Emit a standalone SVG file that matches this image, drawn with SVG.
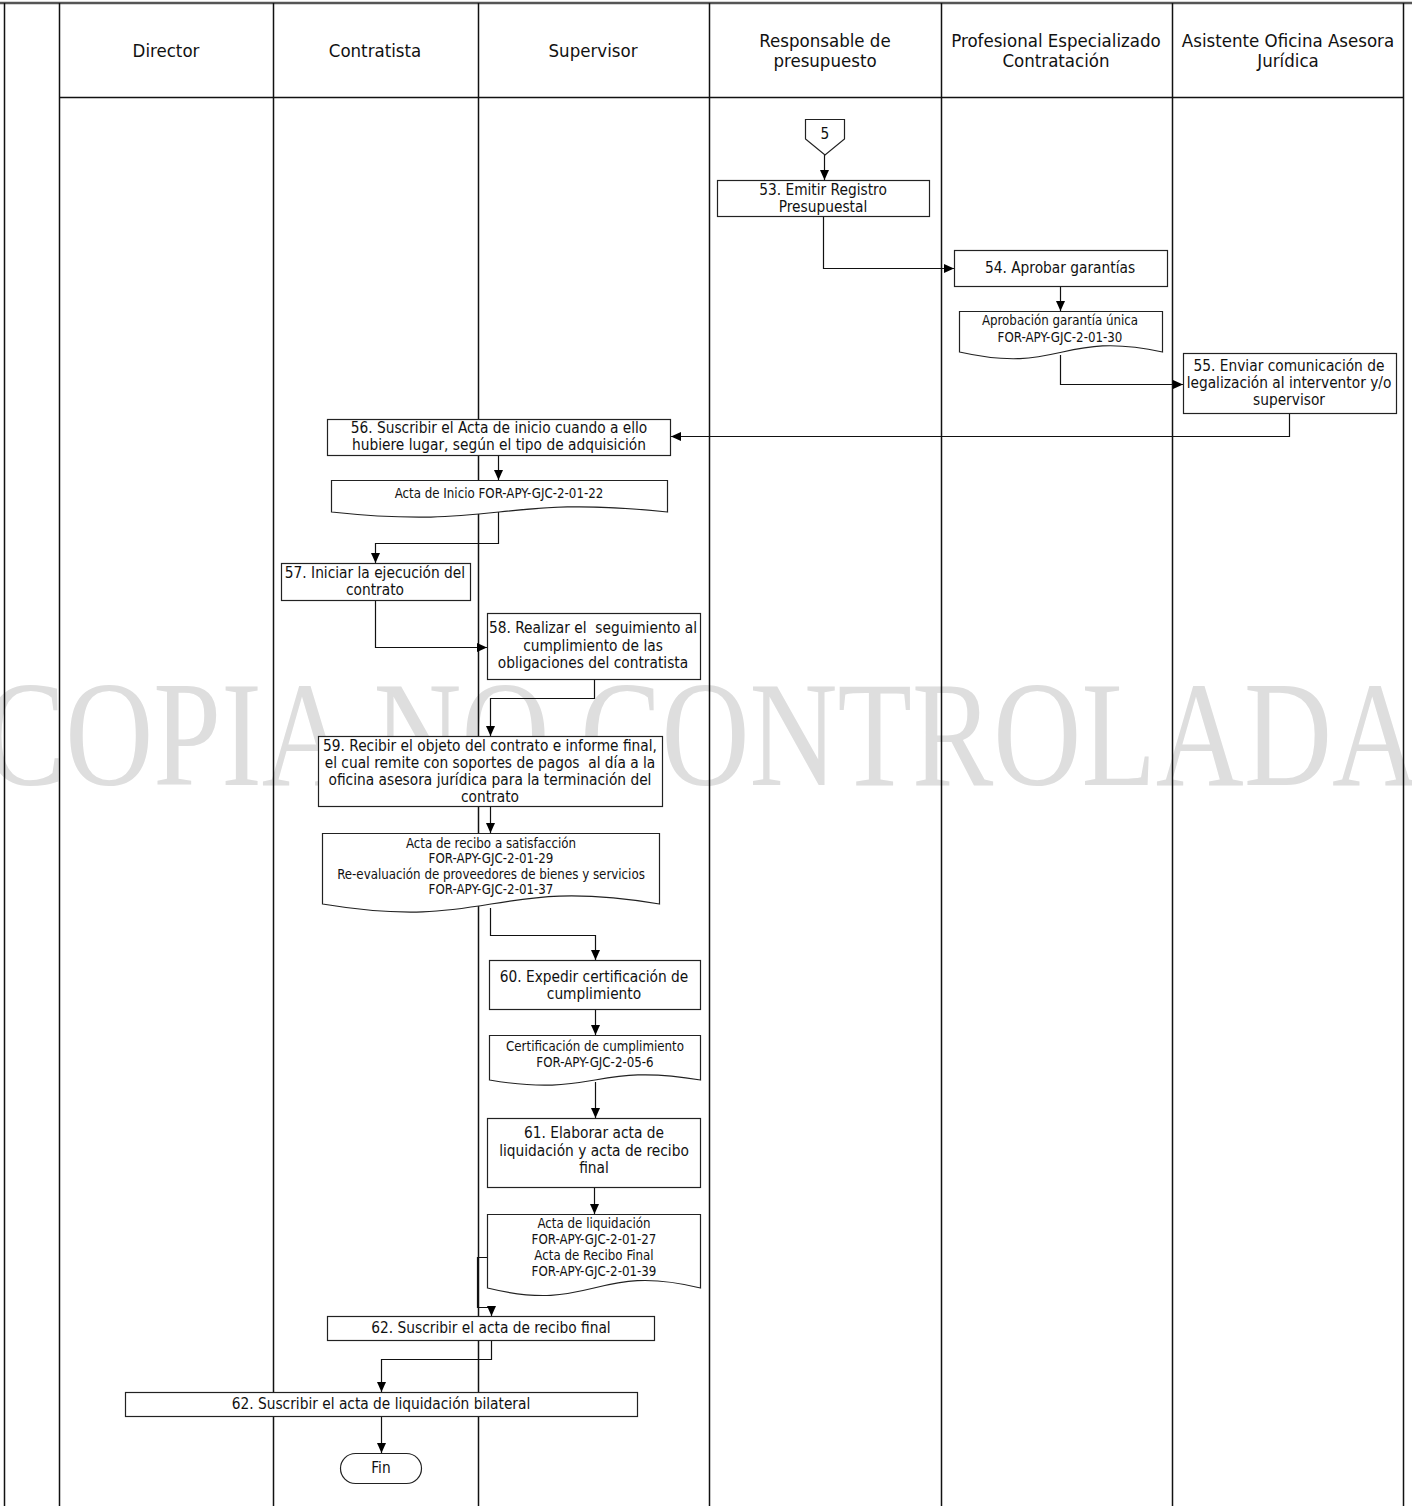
<svg xmlns="http://www.w3.org/2000/svg" width="1412" height="1506" viewBox="0 0 1412 1506">
  <style>
    .lane { stroke: #111; stroke-width: 1.5; fill: none; }
    .box { fill: #fff; stroke: #222; stroke-width: 1.2; }
    .doc { fill: #fff; stroke: #222; stroke-width: 1.2; }
    .conn { fill: none; stroke: #111; stroke-width: 1.2; }
    text { font-family: "DejaVu Sans Condensed", "DejaVu Sans", "Liberation Sans", sans-serif; font-stretch: condensed; fill: #111; text-anchor: middle; dominant-baseline: central; }
    .hdr { font-size: 18.5px; }
    .t { font-size: 15.3px; }
    .d { font-size: 13.2px; }
    .wm { font-family: "Liberation Serif", "Times New Roman", serif; font-stretch: normal; font-size: 150px; fill: #dedede; text-anchor: start; dominant-baseline: alphabetic; }
  </style>
  <defs>
    <marker id="arrow" markerUnits="userSpaceOnUse" markerWidth="12" markerHeight="12" viewBox="0 0 12 12" refX="11" refY="6" orient="auto">
      <path d="M1,1.5 L11,6 L1,10.5 Z" fill="#000"/>
    </marker>
  </defs>

  <!-- watermark -->
  <text class="wm" x="-16" y="785" textLength="1436" lengthAdjust="spacingAndGlyphs">COPIA NO CONTROLADA</text>

  <!-- swimlane frame -->
  <g id="lanes">
    <line x1="0" y1="3" x2="1412" y2="3" stroke="#555" stroke-width="2.5"/>
    <line class="lane" x1="4.5" y1="3" x2="4.5" y2="1506"/>
    <line class="lane" x1="59.5" y1="3" x2="59.5" y2="1506"/>
    <line class="lane" x1="273.5" y1="3" x2="273.5" y2="1506"/>
    <line class="lane" x1="478.5" y1="3" x2="478.5" y2="1506"/>
    <line class="lane" x1="709.5" y1="3" x2="709.5" y2="1506"/>
    <line class="lane" x1="941.5" y1="3" x2="941.5" y2="1506"/>
    <line class="lane" x1="1172.5" y1="3" x2="1172.5" y2="1506"/>
    <line class="lane" x1="1403.5" y1="3" x2="1403.5" y2="1506"/>
    <line class="lane" x1="59" y1="97.5" x2="1404" y2="97.5"/>
  </g>

  <g id="headers">
    <text class="hdr" x="166" y="50">Director</text>
    <text class="hdr" x="375" y="50">Contratista</text>
    <text class="hdr" x="593" y="50">Supervisor</text>
    <text class="hdr" x="825" y="40">Responsable de</text>
    <text class="hdr" x="825" y="60">presupuesto</text>
    <text class="hdr" x="1056" y="40">Profesional Especializado</text>
    <text class="hdr" x="1056" y="60">Contratación</text>
    <text class="hdr" x="1288" y="40">Asistente Oficina Asesora</text>
    <text class="hdr" x="1288" y="60">Jurídica</text>
  </g>

  <!-- connectors -->
  <g id="connectors">
    <polyline class="conn" points="824.5,155 824.5,180" marker-end="url(#arrow)"/>
    <polyline class="conn" points="823.5,217 823.5,268.5 954,268.5" marker-end="url(#arrow)"/>
    <polyline class="conn" points="1060.5,286 1060.5,311" marker-end="url(#arrow)"/>
    <polyline class="conn" points="1060.5,355 1060.5,384.5 1183,384.5" marker-end="url(#arrow)"/>
    <polyline class="conn" points="1289.5,413 1289.5,436.5 671,436.5" marker-end="url(#arrow)"/>
    <polyline class="conn" points="498.5,455 498.5,480" marker-end="url(#arrow)"/>
    <polyline class="conn" points="498.5,512 498.5,543.5 375.5,543.5 375.5,563" marker-end="url(#arrow)"/>
    <polyline class="conn" points="375.5,600 375.5,647.5 487,647.5" marker-end="url(#arrow)"/>
    <polyline class="conn" points="594.5,679 594.5,698.5 490.5,698.5 490.5,736" marker-end="url(#arrow)"/>
    <polyline class="conn" points="490.5,806 490.5,833" marker-end="url(#arrow)"/>
    <polyline class="conn" points="490.5,908 490.5,935.5 595.5,935.5 595.5,960" marker-end="url(#arrow)"/>
    <polyline class="conn" points="595.5,1009 595.5,1035" marker-end="url(#arrow)"/>
    <polyline class="conn" points="595.5,1082 595.5,1118" marker-end="url(#arrow)"/>
    <polyline class="conn" points="594.5,1187 594.5,1214" marker-end="url(#arrow)"/>
    <polyline class="conn" points="487,1257.5 477.5,1257.5 477.5,1307.5 491.5,1307.5 491.5,1316" marker-end="url(#arrow)"/>
    <polyline class="conn" points="491.5,1340 491.5,1359.5 381.5,1359.5 381.5,1392" marker-end="url(#arrow)"/>
    <polyline class="conn" points="381.5,1416 381.5,1453" marker-end="url(#arrow)"/>
  </g>

  <!-- off-page connector 5 -->
  <g id="n5">
    <path class="box" d="M805.5,119.5 H844.5 V139 L825,155 L805.5,139 Z"/>
    <text class="t" x="825" y="134">5</text>
  </g>

  <g id="n53">
    <rect class="box" x="717.5" y="180.5" width="212" height="36"/>
    <text class="t" x="823" y="190">53. Emitir Registro</text>
    <text class="t" x="823" y="207">Presupuestal</text>
  </g>

  <g id="n54">
    <rect class="box" x="954.5" y="250.5" width="213" height="36"/>
    <text class="t" x="1060" y="268">54. Aprobar garantías</text>
  </g>

  <g id="d54">
    <path class="doc" d="M959.5,311.5 H1162.5 V352 C1061,330 1061,375 959.5,352 Z"/>
    <text class="d" x="1060" y="320">Aprobación garantía única</text>
    <text class="d" x="1060" y="337">FOR-APY-GJC-2-01-30</text>
  </g>

  <g id="n55">
    <rect class="box" x="1183.5" y="353.5" width="213" height="60"/>
    <text class="t" x="1289" y="366">55. Enviar comunicación de</text>
    <text class="t" x="1289" y="383">legalización al interventor y/o</text>
    <text class="t" x="1289" y="400">supervisor</text>
  </g>

  <g id="n56">
    <rect class="box" x="327.5" y="419.5" width="343" height="36"/>
    <text class="t" x="499" y="428">56. Suscribir el Acta de inicio cuando a ello</text>
    <text class="t" x="499" y="445">hubiere lugar, según el tipo de adquisición</text>
  </g>

  <g id="d56">
    <path class="doc" d="M331.5,480.5 H667.5 V512 C499,494 499,530 331.5,512 Z"/>
    <text class="d" x="499" y="493">Acta de Inicio FOR-APY-GJC-2-01-22</text>
  </g>

  <g id="n57">
    <rect class="box" x="281.5" y="563.5" width="189" height="37"/>
    <text class="t" x="375" y="573">57. Iniciar la ejecución del</text>
    <text class="t" x="375" y="590">contrato</text>
  </g>

  <g id="n58">
    <rect class="box" x="487.5" y="613.5" width="213" height="66"/>
    <text class="t" x="593" y="628" xml:space="preserve">58. Realizar el  seguimiento al</text>
    <text class="t" x="593" y="646">cumplimiento de las</text>
    <text class="t" x="593" y="663">obligaciones del contratista</text>
  </g>

  <g id="n59">
    <rect class="box" x="318.5" y="736.5" width="344" height="70"/>
    <text class="t" x="490" y="746">59. Recibir el objeto del contrato e informe final,</text>
    <text class="t" x="490" y="763" xml:space="preserve">el cual remite con soportes de pagos  al día a la</text>
    <text class="t" x="490" y="780">oficina asesora jurídica para la terminación del</text>
    <text class="t" x="490" y="797">contrato</text>
  </g>

  <g id="d59">
    <path class="doc" d="M322.5,833.5 H659.5 V904 C491,876 491,932 322.5,904 Z"/>
    <text class="d" x="491" y="843">Acta de recibo a satisfacción</text>
    <text class="d" x="491" y="858">FOR-APY-GJC-2-01-29</text>
    <text class="d" x="491" y="874">Re-evaluación de proveedores de bienes y servicios</text>
    <text class="d" x="491" y="889">FOR-APY-GJC-2-01-37</text>
  </g>

  <g id="n60">
    <rect class="box" x="489.5" y="960.5" width="211" height="49"/>
    <text class="t" x="594" y="977">60. Expedir certificación de</text>
    <text class="t" x="594" y="994">cumplimiento</text>
  </g>

  <g id="d60">
    <path class="doc" d="M489.5,1035.5 H700.5 V1080 C595,1062 595,1098 489.5,1080 Z"/>
    <text class="d" x="595" y="1046">Certificación de cumplimiento</text>
    <text class="d" x="595" y="1062">FOR-APY-GJC-2-05-6</text>
  </g>

  <g id="n61">
    <rect class="box" x="487.5" y="1118.5" width="213" height="69"/>
    <text class="t" x="594" y="1133">61. Elaborar acta de</text>
    <text class="t" x="594" y="1151">liquidación y acta de recibo</text>
    <text class="t" x="594" y="1168">final</text>
  </g>

  <g id="d61">
    <path class="doc" d="M487.5,1214.5 H700.5 V1288 C594,1262 594,1314 487.5,1288 Z"/>
    <text class="d" x="594" y="1223">Acta de liquidación</text>
    <text class="d" x="594" y="1239">FOR-APY-GJC-2-01-27</text>
    <text class="d" x="594" y="1255">Acta de Recibo Final</text>
    <text class="d" x="594" y="1271">FOR-APY-GJC-2-01-39</text>
  </g>

  <g id="n62a">
    <rect class="box" x="327.5" y="1316.5" width="327" height="24"/>
    <text class="t" x="491" y="1328">62. Suscribir el acta de recibo final</text>
  </g>

  <g id="n62b">
    <rect class="box" x="125.5" y="1392.5" width="512" height="24"/>
    <text class="t" x="381" y="1404">62. Suscribir el acta de liquidación bilateral</text>
  </g>

  <g id="fin">
    <rect class="box" x="340.5" y="1453.5" width="81" height="30" rx="15" ry="15"/>
    <text class="t" x="381" y="1468">Fin</text>
  </g>
</svg>
